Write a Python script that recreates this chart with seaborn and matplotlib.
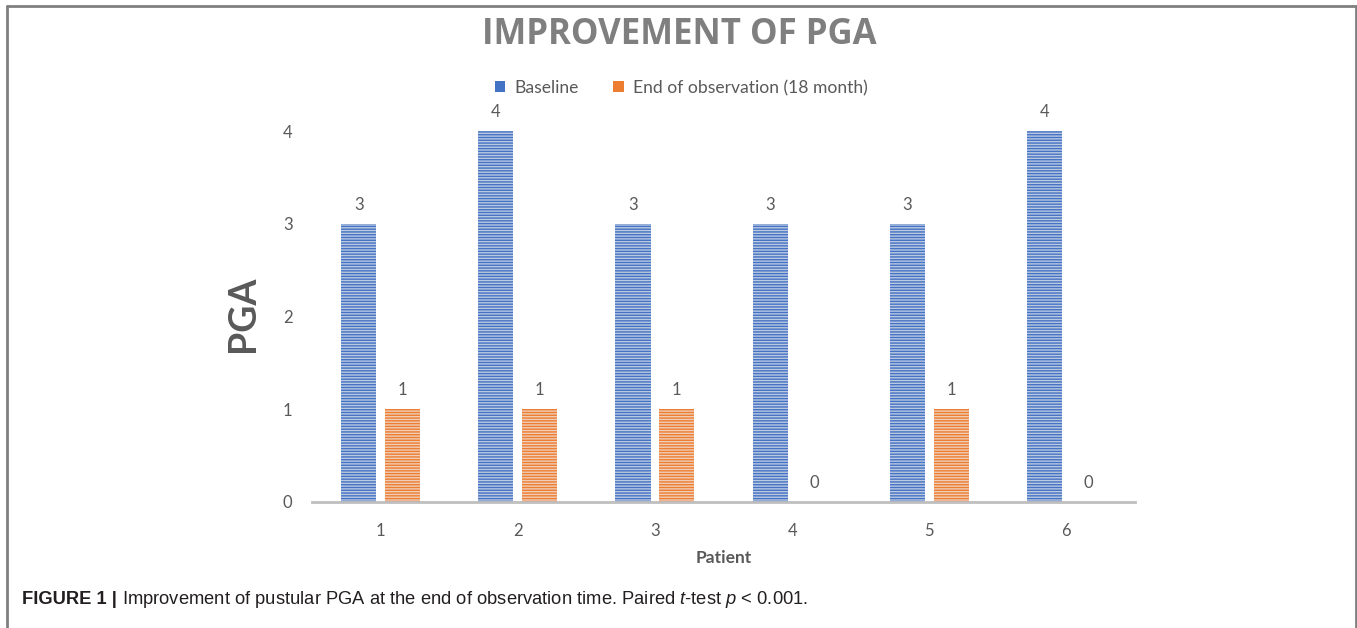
import matplotlib
matplotlib.use("Agg")
import matplotlib.pyplot as plt
import seaborn as sns
import pandas as pd
from matplotlib.lines import Line2D
from matplotlib.patches import Patch

patients = ["1", "2", "3", "4", "5", "6"]
baseline = [3, 4, 3, 3, 3, 4]
end_obs = [1, 1, 1, 0, 1, 0]
series_names = ["Baseline", "End of observation (18 month)"]
y_ticks = [0, 1, 2, 3, 4]

df = pd.DataFrame({
    "Patient": patients * 2,
    "PGA": baseline + end_obs,
    "Time": [series_names[0]] * len(patients) + [series_names[1]] * len(patients),
})

sns.set_theme(style="white")
plt.rcParams["font.family"] = ["Lato", "DejaVu Sans"]
plt.rcParams["hatch.linewidth"] = 1.0

light = ["#b4c7e7", "#f8cbad"]
dark = ["#4472c4", "#ed7d31"]
txt = "#595959"

W, H = 1357, 628
fig = plt.figure(figsize=(W / 100, H / 100), dpi=100)
ax = fig.add_axes([312 / W, 1 - 502 / H, (1135 - 312) / W, (502 - 131) / H])

sns.barplot(data=df, x="Patient", y="PGA", hue="Time", palette=light,
            width=0.64, gap=0.2, ax=ax, legend=False, linewidth=0)

for i, cont in enumerate(ax.containers):
    for bar in cont:
        bar.set_hatch("------")
        bar.set_edgecolor(dark[i])
        bar.set_linewidth(0)
    ax.bar_label(cont, padding=8, fontsize=12, color=txt)

ax.set_ylim(0, 4)
ax.set_xlim(-0.5, 5.5)
ax.set_yticks(y_ticks)
ax.set_yticklabels([str(v) for v in y_ticks])
for s in ["top", "right", "left"]:
    ax.spines[s].set_visible(False)
ax.spines["bottom"].set_color("#bfbfbf")
ax.spines["bottom"].set_linewidth(2)
ax.tick_params(axis="y", length=0, pad=14, labelsize=12, labelcolor=txt)
ax.tick_params(axis="x", length=0, pad=15, labelsize=12, labelcolor=txt)
ax.set_xlabel("Patient", fontsize=12.5, fontweight="bold", color=txt, labelpad=8)
ax.set_ylabel("")
fig.text(243 / W, 1 - 314 / H, "PGA", rotation=90, ha="center", va="center",
         fontsize=27, fontweight="bold", color=txt)

fig.text(679 / W, 1 - 35 / H, "IMPROVEMENT OF PGA", ha="center", va="center",
         fontsize=25, fontweight="bold", color="#7f7f7f",
         family=["Open Sans", "DejaVu Sans"])

handles = [Patch(facecolor=dark[0], edgecolor="none"),
           Patch(facecolor=dark[1], edgecolor="none")]
fig.legend(handles, series_names, loc="center", bbox_to_anchor=(681 / W, 1 - 88 / H),
           ncol=2, frameon=False, fontsize=12.6, labelcolor=txt,
           handlelength=0.6, handleheight=0.6, handletextpad=0.5, columnspacing=2.0)

# caption
plt.rcParams["mathtext.fontset"] = "custom"
plt.rcParams["mathtext.it"] = "Liberation Sans:italic"
plt.rcParams["mathtext.rm"] = "Liberation Sans"
t1 = fig.text(22 / W, 1 - 600 / H, "FIGURE 1 |", ha="left", va="center",
              fontsize=13.2, fontweight="bold", color="#231f20",
              family=["Liberation Sans", "DejaVu Sans"])
fig.add_artist(plt.Annotation(
    r"Improvement of pustular PGA at the end of observation time. Paired $t$-test $p$ < 0.001.",
    xy=(1, 0.5), xycoords=t1, xytext=(4, 0), textcoords="offset points",
    ha="left", va="center", fontsize=13.2, color="#231f20",
    family=["Liberation Sans", "DejaVu Sans"]))

# border
bc = "#808080"
fig.add_artist(Line2D([7 / W, 7 / W], [0, 1 - 6 / H], color=bc, lw=2))
fig.add_artist(Line2D([7 / W, 1356 / W], [1 - 6 / H, 1 - 6 / H], color=bc, lw=2))
fig.add_artist(Line2D([1356 / W, 1356 / W], [0, 1 - 6 / H], color=bc, lw=2))

fig.savefig("out.png", dpi=100)
